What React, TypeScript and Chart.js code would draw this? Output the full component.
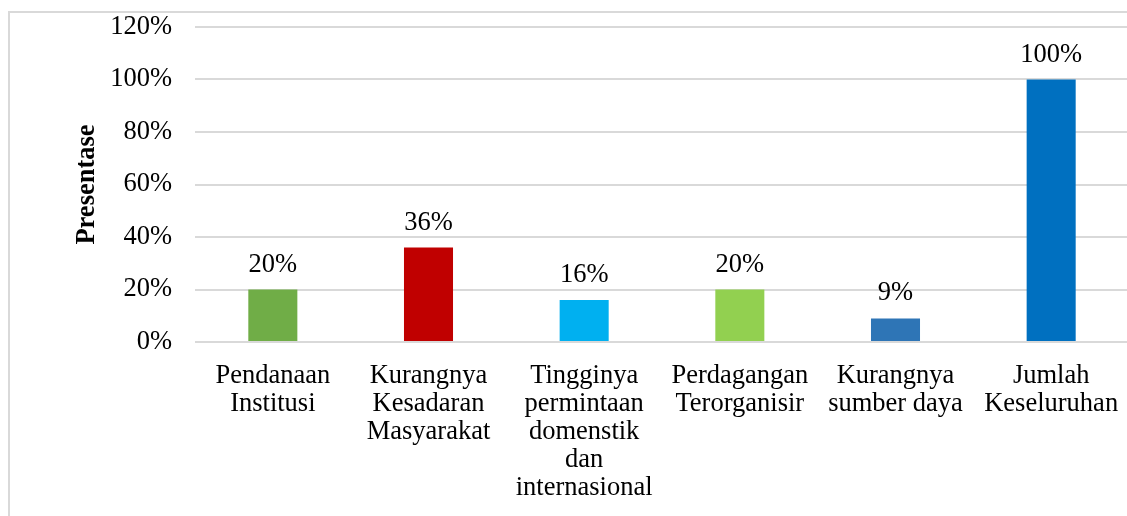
import React, { useEffect, useRef } from "react";
import { Chart, registerables } from "chart.js";

Chart.register(...registerables);

const categories: string[][] = [
  ["Pendanaan", "Institusi"],
  ["Kurangnya", "Kesadaran", "Masyarakat"],
  ["Tingginya", "permintaan", "domenstik", "dan", "internasional"],
  ["Perdagangan", "Terorganisir"],
  ["Kurangnya", "sumber daya"],
  ["Jumlah", "Keseluruhan"],
];
const values: number[] = [20, 36, 16, 20, 9, 100];
const barColors: string[] = ["#70AD47", "#C00000", "#00B0F0", "#92D050", "#2E75B6", "#0070C0"];
const yTitle = "Presentase";

const FONT = "'Liberation Serif', 'Times New Roman', serif";
const FS = 26.5;
const W = 1129;
const H = 516;
const PLOT_LEFT = 195;
const PLOT_BOTTOM = 342;

const valueLabels = {
  id: "valueLabels",
  afterDatasetsDraw(chart: any) {
    const ctx = chart.ctx;
    const meta = chart.getDatasetMeta(0);
    ctx.save();
    ctx.font = `${FS}px ${FONT}`;
    ctx.fillStyle = "#000";
    ctx.textAlign = "center";
    ctx.textBaseline = "alphabetic";
    meta.data.forEach((bar: any, i: number) => {
      ctx.fillText(`${values[i]}%`, bar.x, bar.y - 18);
    });
    ctx.restore();
  },
};

export default function App() {
  const ref = useRef<HTMLCanvasElement | null>(null);
  useEffect(() => {
    if (!ref.current) return;
    const chart = new Chart(ref.current, {
      type: "bar",
      data: {
        labels: categories,
        datasets: [
          {
            data: values,
            backgroundColor: barColors,
            borderWidth: 0,
            categoryPercentage: 1,
            barPercentage: 0.315,
          },
        ],
      },
      options: {
        animation: false,
        responsive: false,
        devicePixelRatio: 1,
        layout: { padding: { top: 27, left: 0, right: 0, bottom: 0 } },
        plugins: { legend: { display: false }, tooltip: { enabled: false } },
        scales: {
          x: {
            grid: { display: false, drawTicks: false },
            border: { display: false },
            ticks: {
              color: "#000",
              font: { family: FONT, size: FS, lineHeight: 1.06 },
              padding: 20,
              maxRotation: 0,
              autoSkip: false,
            },
            afterFit: (s: any) => {
              s.height = H - PLOT_BOTTOM;
              s.paddingLeft = 0;
              s.paddingRight = 0;
            },
          },
          y: {
            min: 0,
            max: 120,
            grid: { color: "#d9d9d9", lineWidth: 2, drawTicks: false },
            border: { display: false },
            ticks: {
              stepSize: 20,
              color: "#000",
              font: { family: FONT, size: FS },
              padding: 23,
              callback: (v: any) => `${v}%`,
            },
            title: {
              display: true,
              text: yTitle,
              color: "#000",
              font: { family: FONT, size: FS, weight: "bold" },
              padding: { top: 71, bottom: 0 },
            },
            afterFit: (s: any) => {
              s.width = PLOT_LEFT;
              s.paddingTop = 0;
              s.paddingBottom = 0;
            },
          },
        },
      },
      plugins: [valueLabels],
    });
    return () => chart.destroy();
  }, []);

  return (
    <div style={{ position: "fixed", left: 0, top: 0, width: 1127, height: 516, overflow: "hidden", background: "#fff" }}>
      <div
        style={{
          position: "absolute",
          left: 8,
          top: 11,
          width: 1300,
          height: 700,
          border: "2px solid #d9d9d9",
        }}
      />
      <canvas ref={ref} width={W} height={H} style={{ position: "absolute", left: 0, top: 0, width: W, height: H }} />
    </div>
  );
}
